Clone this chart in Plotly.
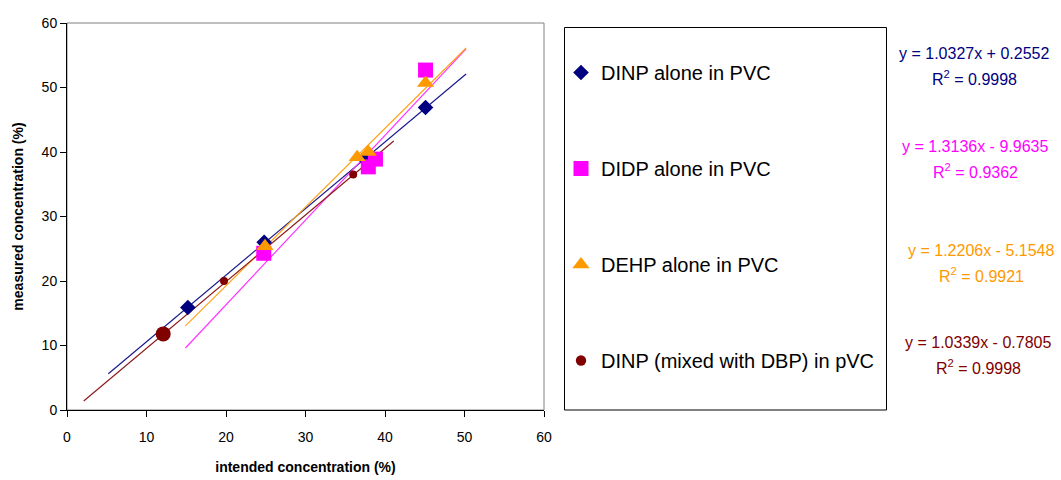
import plotly.graph_objects as go

# ---------------- data ----------------
series_names = ["DINP alone in PVC", "DIDP alone in PVC", "DEHP alone in PVC",
                "DINP (mixed with DBP) in pVC"]

intended_dinp = [15.2, 24.8, 37.4, 45.1]
measured_dinp = [15.9, 26.0, 39.0, 46.9]

intended_didp = [24.75, 37.9, 38.8, 45.1]
measured_didp = [24.3, 37.7, 38.9, 52.7]

intended_dehp = [24.9, 36.5, 37.9, 45.1]
measured_dehp = [25.4, 39.2, 40.0, 50.7]

intended_mix = [12.1, 19.75, 36.0]
measured_mix = [11.8, 20.0, 36.5]

slopes = [1.0327, 1.3136, 1.2206, 1.0339]
intercepts = [0.2552, -9.9635, -5.1548, -0.7805]
r_squared = ["0.9998", "0.9362", "0.9921", "0.9998"]
fit_x_start = [5.2, 14.9, 14.9, 2.1]
fit_x_end = [50.2, 50.2, 50.2, 41.1]

x_ticks = [0, 10, 20, 30, 40, 50, 60]
y_ticks = [0, 10, 20, 30, 40, 50, 60]

# ---------------- styling ----------------
colors = ["#000080", "#FF00FF", "#FF9900", "#800000"]
line_colors = ["#1a1a8c", "#FF33FF", "#FFA31A", "#8B1A1A"]
symbols = ["diamond", "square", "triangle-up", "circle"]
sizes = [12, 15, 15, [15, 8, 8]]
FONT = "Liberation Sans, Arial, sans-serif"

W, H = 1061, 480
L, R, T, B = 67, 517, 23, 70
PW, PH = W - L - R, H - T - B


def px_x(px):
    return (px - L) / PW


def px_y(py):
    return (H - B - py) / PH


xs = [intended_dinp, intended_didp, intended_dehp, intended_mix]
ys = [measured_dinp, measured_didp, measured_dehp, measured_mix]

fig = go.Figure()

# trendlines
for i in range(4):
    fx = [fit_x_start[i], fit_x_end[i]]
    fy = [slopes[i] * v + intercepts[i] for v in fx]
    fig.add_trace(go.Scatter(x=fx, y=fy, mode="lines",
                             line=dict(color=line_colors[i], width=1.2),
                             showlegend=False, hoverinfo="skip"))

# points
for i in range(4):
    fig.add_trace(go.Scatter(x=xs[i], y=ys[i], mode="markers", name=series_names[i],
                             legendgroup=f"g{i}", opacity=1,
                             marker=dict(symbol=symbols[i], size=sizes[i], color=colors[i],
                                         opacity=1, line=dict(width=0))))

# equations
eq_centers = [974, 975, 981, 978]
eq_y = [53, 146, 250, 342]
for i in range(4):
    sign = "+" if intercepts[i] >= 0 else "-"
    eq = f"y = {slopes[i]:.4f}x {sign} {abs(intercepts[i]):.4f}"
    fig.add_annotation(x=px_x(eq_centers[i]), y=px_y(eq_y[i]), xref="paper", yref="paper",
                       text=eq, showarrow=False, xanchor="center", yanchor="middle",
                       font=dict(family=FONT, size=16, color=colors[i]))
    fig.add_annotation(x=px_x(eq_centers[i]), y=px_y(eq_y[i] + 25), xref="paper", yref="paper",
                       text=f"R<sup>2</sup> = {r_squared[i]}", showarrow=False,
                       xanchor="center", yanchor="middle",
                       font=dict(family=FONT, size=16, color=colors[i]))

# plot frame (gray top/right) and legend box
fig.add_shape(type="rect", xref="paper", yref="paper", x0=0, x1=1, y0=0, y1=1,
              line=dict(color="#808080", width=1), layer="below")
fig.add_shape(type="rect", xref="paper", yref="paper",
              x0=px_x(564.5), x1=px_x(886.5), y0=px_y(410), y1=px_y(27.5),
              line=dict(color="#000000", width=1))

fig.update_layout(
    width=W, height=H,
    margin=dict(l=L, r=R, t=T, b=B, pad=0, autoexpand=False),
    paper_bgcolor="white", plot_bgcolor="white",
    font=dict(family=FONT, size=14, color="black"),
    showlegend=True,
    legend=dict(x=px_x(561), y=px_y(53), xanchor="left", yanchor="top",
                font=dict(family=FONT, size=20, color="black"),
                bgcolor="rgba(0,0,0,0)", borderwidth=0,
                tracegroupgap=67, itemsizing="trace"),
    xaxis=dict(range=[0, 60], tickvals=x_ticks, showgrid=False, zeroline=False,
               showline=True, linecolor="black", linewidth=1, ticks="outside",
               ticklen=6, tickcolor="black", tickfont=dict(size=14),
               ticklabelstandoff=8, automargin=False,
               title=dict(text="<b>intended concentration (%)</b>", font=dict(size=14),
                          standoff=18)),
    yaxis=dict(range=[0, 60], tickvals=y_ticks, showgrid=False, zeroline=False,
               showline=True, linecolor="black", linewidth=1, ticks="outside",
               ticklen=6, tickcolor="black", tickfont=dict(size=14), automargin=False,
               title=dict(text="<b>measured concentration (%)</b>", font=dict(size=14),
                          standoff=14)),
)

fig.write_html("out.html", config={"displayModeBar": False},
               post_script="document.body.style.margin='0';")
